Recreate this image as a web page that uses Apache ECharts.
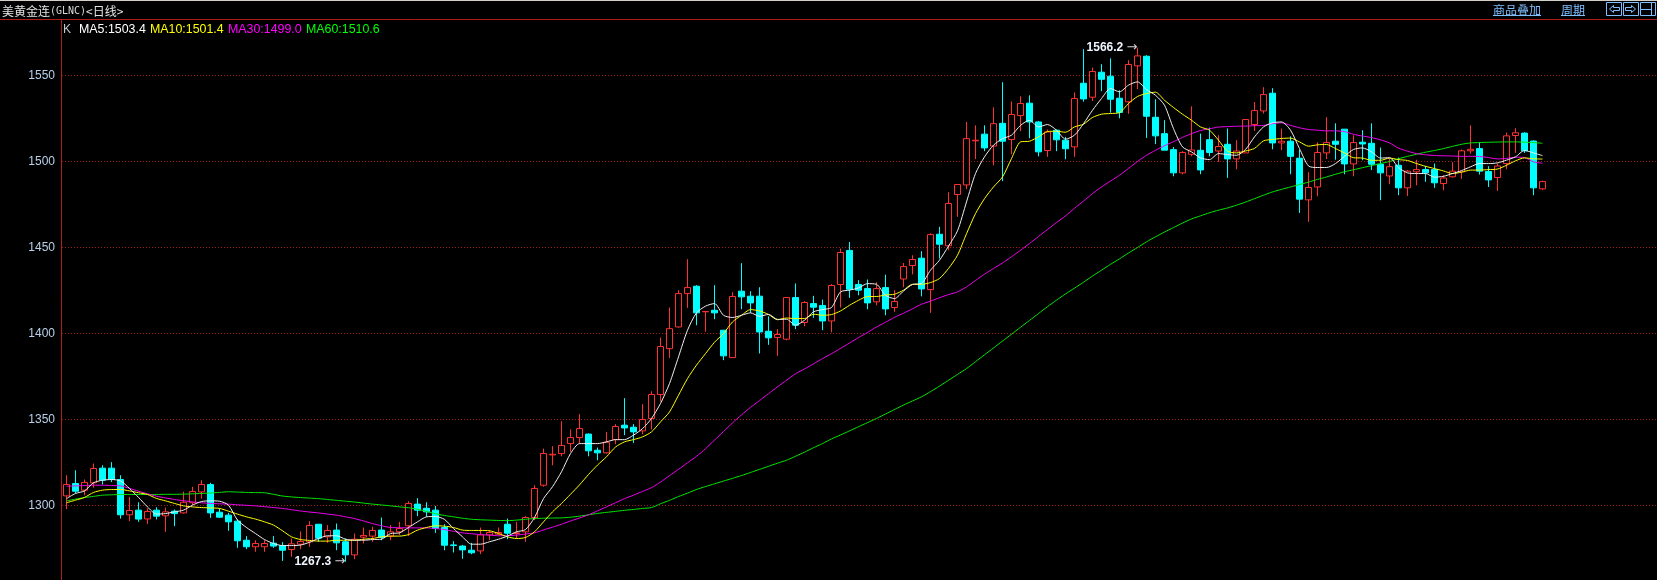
<!DOCTYPE html>
<html><head><meta charset="utf-8">
<style>html,body{margin:0;padding:0;background:#000;overflow:hidden}#c{width:1657px;height:580px}</style>
<script src="https://cdn.jsdelivr.net/npm/echarts@6/dist/echarts.min.js"></script>
</head><body><div id="c"></div>
<script>
const opens=[1305.6,1312.8,1308.9,1313.2,1321.7,1321.7,1315.1,1294.6,1297.3,1292.2,
1297.3,1294,1296.7,1295.7,1301.6,1307.9,1312.2,1296.1,1294.4,1290.9,
1279.8,1276,1276,1278.1,1276.7,1274.4,1277.5,1278.9,1289.1,1281.8,
1285.7,1278.9,1271.3,1281.6,1282.2,1285.7,1282.2,1284.7,1288.2,1300.8,
1298.4,1297.3,1287.2,1277.1,1276.4,1274,1273.6,1282.9,1283.3,1289.1,
1283.7,1284.7,1293,1311.8,1329.4,1330.2,1336,1339.5,1341.5,1332.1,
1330.6,1338.3,1346.7,1345.5,1343.4,1350.6,1364.5,1391.2,1403.8,1423.2,
1427.5,1412.6,1413.5,1401.9,1386,1424.6,1421.7,1421.7,1401.3,1397.7,
1396.7,1420.9,1406.4,1417.4,1416.3,1407.3,1428.5,1448.3,1428.5,1426.1,
1418.4,1426.7,1415.1,1431.7,1439.5,1443.8,1425.5,1457.7,1451,1480.8,
1486.4,1512,1515.9,1509,1522.2,1512.8,1526.7,1533.9,1523,1506.4,
1518.2,1512.4,1508.5,1545.5,1537.4,1551.9,1549.6,1536.8,1534.7,1555.6,
1561.2,1525.7,1516.2,1506.9,1493.4,1504.2,1506.5,1512.7,1506.1,1510,
1501.5,1505,1521.5,1529.4,1539.7,1510.8,1511.8,1501.9,1477.7,1485.2,
1505,1511.8,1518.8,1498.6,1511.2,1510.6,1498.4,1491.6,1497.8,1484.7,
1494,1495.3,1495.3,1487.2,1491.1,1494,1506.2,1507.5,1494.2,1490.7,
1498.8,1515.1,1516.5,1511.9,1484.1];
const closes=[1312.2,1308.3,1313.4,1321.5,1314.7,1315.1,1294.6,1297.1,1292.1,1296.5,
1293.8,1296.3,1295.3,1301.9,1308.1,1312.2,1295.7,1293.2,1290.5,1279.5,
1276,1277.9,1277.9,1276.4,1274,1277.7,1279.1,1288.4,1281,1285.5,
1278.3,1271.3,1280.4,1282.6,1285.5,1281.4,1284.7,1286.6,1301.2,1297.3,
1296.3,1286.6,1276.9,1276.7,1274.2,1272.5,1282.9,1284.3,1284.3,1283.9,
1284.1,1293,1309.9,1330.2,1329.8,1334.9,1339.5,1344.7,1331.8,1330.6,
1336.8,1345.9,1345.1,1342.8,1350,1364.5,1392.4,1402.8,1423.2,1426.7,
1412,1412.8,1412,1387,1421.5,1421.3,1417.8,1400.9,1397.5,1399.4,
1420.9,1404.8,1418,1415.3,1407.3,1427.9,1447.1,1425.7,1425.2,1417.8,
1426.1,1414.3,1418.6,1438.9,1443,1425.9,1457.5,1451.9,1475.6,1486.6,
1513.3,1512.4,1507.9,1522,1511.8,1527.3,1533.7,1523,1505.6,1517.2,
1512.6,1507.4,1536.6,1536.4,1552.3,1547.8,1536.2,1528.5,1556.4,1561.4,
1526.3,1514.9,1506.6,1493.4,1505.2,1506.7,1495.1,1505.2,1508.7,1501.5,
1506.1,1524.4,1529.6,1538.9,1510.8,1511.8,1503,1478.1,1484.9,1505.2,
1511,1510,1498.6,1511,1510.2,1498.4,1493.4,1497,1484.7,1494.4,
1495.3,1493.4,1487.6,1490.4,1494.4,1506.2,1507.1,1494.4,1489.3,1497.4,
1514.9,1516.7,1506.2,1484.7,1488.3];
const lows=[1297.9,1307,1306,1310.3,1312.2,1313.6,1292.4,1290.9,1290.5,1289.3,
1291.9,1284.7,1288,1295.3,1300.2,1304,1292.8,1292.8,1285.3,1275.4,
1274.6,1273.1,1273.1,1275.4,1267.8,1270.2,1274.6,1276,1278.9,1278.3,
1274,1267.3,1268.8,1277.9,1278.9,1279.8,1279.8,1282.8,1282.2,1293.8,
1293.4,1284.1,1274,1272.7,1269,1271.7,1271.7,1279.8,1282.8,1280.4,
1280.8,1278.9,1291.5,1310.9,1323.4,1328.6,1331.2,1336,1328.6,1326.3,
1330.2,1335.6,1340.9,1336.4,1341.5,1344.2,1360.4,1385.8,1403.4,1414.9,
1404.8,1401,1408.3,1384.5,1386,1414.1,1412,1388.4,1393.4,1387,
1396,1402.5,1404.2,1409.1,1401.9,1400.7,1415.1,1420.7,1422.2,1414.1,
1416.4,1410.6,1412.6,1426.9,1434.4,1421.6,1412,1443.6,1448.4,1467.8,
1483.9,1501.4,1506,1497.8,1488.6,1504.2,1517.6,1513.5,1503,1502.7,
1506,1501.3,1502.7,1534.8,1535.2,1540.9,1528.4,1525.1,1527.7,1542,
1513.7,1510.1,1506.6,1491.4,1492.6,1503,1492.6,1503,1499.8,1490.5,
1495.5,1505,1517.8,1527.9,1507.1,1506.6,1492.6,1470.1,1464.9,1479.8,
1501.4,1501,1492.6,1491.4,1500.7,1495,1477.5,1486.8,1480.4,1479.9,
1486.2,1488.2,1484.7,1483.3,1490.7,1489.9,1504.6,1492.4,1485.2,1482.9,
1495.5,1505,1505,1480.4,1483.3];
const highs=[1317.6,1320.5,1315.1,1324.4,1323.4,1325.2,1317.6,1305,1301.9,1298.4,
1299,1298.8,1297.7,1308.1,1310.9,1314.7,1313.2,1298.3,1295.7,1291.9,
1282.2,1279.8,1279.8,1282.2,1278.7,1280.8,1284.9,1290.9,1289.1,1288.6,
1289.5,1280.8,1283.7,1287.2,1287.6,1293,1288.6,1290.5,1302.5,1304.3,
1301.9,1299.7,1289.1,1279.3,1277.1,1278.3,1287.2,1285.7,1287.2,1292.4,
1290.5,1293.8,1311.8,1333.1,1334.5,1349,1344.2,1353.1,1341.9,1333.7,
1342.8,1347.3,1362.4,1347.3,1358.9,1366.4,1397.6,1415.1,1425.2,1443.2,
1428.1,1412.9,1428.1,1401.9,1424,1440.9,1424.6,1426.9,1410,1402.5,
1421,1429.1,1418.8,1421.9,1419.7,1428.7,1449.4,1453.2,1431,1431.4,
1429.8,1434.2,1425.2,1441,1445.5,1447.9,1458.3,1462,1482.1,1486.6,
1523,1521,1521,1531.5,1546.1,1534.9,1537.9,1538.5,1523.6,1518.6,
1518.6,1514.3,1540.1,1565.3,1554.6,1556.6,1560,1541.4,1558.9,1566.2,
1561.8,1536.2,1524,1508.4,1506,1532.1,1516.2,1519.7,1515.3,1519.2,
1512.4,1524.4,1534.6,1543.2,1542.6,1519.1,1514.6,1506.9,1493.8,1511.2,
1525.8,1522.2,1518.8,1515.2,1518.2,1522.2,1508.1,1501.7,1502.3,1495.1,
1501,1497.4,1498.8,1492,1499.6,1507,1521,1511.2,1497.3,1498.8,
1516.8,1519.4,1517,1512.3,1488.9];
const ma5=[1304,1307,1308.5,1313.2,1314.7,1315.1,1314.3,1309.9,1304.7,1299.2,
1295,1295.3,1296.3,1297.3,1300.2,1302.3,1302.7,1302.5,1300.2,1291.5,
1287.2,1283.7,1280.2,1277.9,1276.7,1276.7,1277,1278.6,1280.8,1282.4,
1282.4,1280.4,1279.8,1279.8,1280.2,1280.4,1283.7,1284.1,1287.2,1290.5,
1293.4,1293.6,1291.9,1286.6,1281.8,1277.5,1277.5,1278.9,1280.4,1282.2,
1284.7,1286,1293,1304,1310.9,1319.6,1330.2,1336,1336,1336,
1337,1338.3,1338.3,1340.9,1344.7,1350.6,1359.3,1370.9,1386.4,1401.9,
1412,1415.9,1417.4,1410.6,1409.3,1410.6,1412,1410,1411.1,1408.2,
1408.3,1404.8,1407.7,1412.6,1413.9,1415.1,1424.2,1425.2,1426.5,1429,
1428.6,1422.2,1420.3,1424.7,1428.5,1429.1,1436.8,1442.6,1450.8,1459.7,
1476.5,1493,1502.7,1509.5,1513.3,1515.3,1521,1524,1520.1,1521.5,
1518.2,1513,1515.3,1522,1529.8,1536.6,1542.4,1540.5,1544.4,1546.3,
1541.8,1538.5,1532.7,1519.1,1508.5,1505.6,1502.1,1501.1,1504.6,1504,
1503.6,1507,1514.3,1520.1,1522.5,1523,1518.2,1507.5,1497.4,1496.5,
1496.5,1498.8,1503,1507,1507.9,1505.6,1502,1502.2,1496.5,1493.4,
1493,1493,1490.9,1491.4,1493,1494.7,1496.9,1498.8,1498.8,1499.2,
1500.8,1502.7,1506.4,1505,1503.4];
const ma10=[1301.6,1303.1,1304.7,1307.6,1308.9,1309.3,1309.3,1308.5,1307.4,1306.4,
1304.1,1302.7,1301.2,1299.8,1299.2,1298.8,1298.6,1298.3,1296.7,1295,
1293.4,1292.1,1290.5,1288.6,1285.3,1281.8,1280.2,1279.7,1279.3,1279.3,
1279.8,1279.8,1279.8,1280.4,1280.8,1281.8,1282.2,1282.2,1283.1,1285.7,
1287.2,1288.2,1288,1287.2,1285.7,1285.5,1285.5,1285.3,1283.7,1281.8,
1280.8,1281.4,1284.7,1290.5,1296.3,1301.2,1306.5,1312,1318,1323.5,
1328.3,1334,1337,1338.3,1339.9,1342.8,1348.6,1354.4,1364.1,1373.8,
1381.6,1388.3,1394.9,1400,1406.7,1410.6,1413.9,1413.1,1411.1,1408,
1409,1408.7,1408.7,1411.2,1410.6,1411,1413.1,1416.4,1419.3,1421.5,
1421.5,1422.4,1422.8,1425.2,1428.6,1428.6,1429.6,1432,1437.8,1445.5,
1458,1469.7,1478.4,1485.2,1491,1501.7,1511.4,1511.8,1514.3,1517.4,
1517.6,1517,1520.1,1521.7,1525.6,1527.5,1527.9,1528.4,1533.7,1537.8,
1539.5,1540.3,1535.6,1531.4,1527.5,1524,1520.1,1518.2,1512.4,1506,
1505,1506.1,1507.6,1512,1512.8,1513.4,1513.6,1511.4,1508.9,1509.7,
1509.9,1507.5,1505,1502.2,1502,1500.7,1500.7,1502,1501.1,1500.6,
1498.8,1497.2,1495.9,1494.5,1493,1493.8,1495,1495,1495.3,1495.6,
1497.8,1500.4,1502.1,1501.6,1501.4];
const ma30=[1311.2,1311.4,1311.6,1311.8,1311.8,1311.6,1311.4,1310,1308.3,1306.8,
1305.4,1304.4,1303.5,1302.8,1302.1,1301.6,1301.2,1301,1300.8,1300.4,
1300.1,1299.8,1299.3,1298.8,1298.3,1297.6,1296.8,1296.2,1295.7,1295,
1294.4,1293.4,1292.4,1291,1289.5,1288.2,1287.2,1287.1,1287,1287,
1287,1286.6,1286,1285,1284.1,1283.6,1283.1,1282.8,1282.4,1282.5,
1282.8,1283.4,1284.1,1285.8,1287.4,1289.1,1291,1292.7,1294.6,1296.9,
1299.2,1301.6,1304,1306,1308.2,1310.4,1313.6,1317.4,1321,1324.8,
1328.6,1333,1338,1343,1348,1352.7,1357,1361,1365,1369,
1372.8,1376.6,1379.4,1382.4,1385.4,1388.3,1391.3,1394.5,1397.6,1400.6,
1403.8,1406.5,1409.4,1411.8,1414.4,1417,1418.8,1420.8,1422.6,1424.2,
1427.1,1430.8,1434.5,1437.8,1441,1444.6,1448.4,1452.3,1456.4,1460.5,
1464.5,1468.4,1472.8,1477,1481.3,1485.2,1488.6,1492,1496,1500,
1503.6,1506.5,1509.2,1511.5,1514,1516.2,1518,1519,1520,1520.3,
1520.5,1520.6,1520.8,1521,1522,1522.5,1521,1519.6,1518.6,1518.2,
1517.8,1517.8,1517.4,1515.8,1514.8,1513.9,1512.6,1510.8,1507.8,1506,
1504.6,1503.9,1503.5,1503.3,1503.2,1503,1503,1502.9,1502.3,1501.5,
1501.8,1502.5,1502.3,1499.8,1499];
const ma60=[1302.7,1303.7,1304.6,1305.3,1306,1306.2,1306.4,1306.4,1306.4,1306.4,
1306.4,1306.5,1306.5,1306.6,1306.8,1307,1307.3,1307.6,1308,1307.8,
1307.6,1307.5,1307.4,1306.5,1305.5,1305,1304.6,1304.3,1304,1303.5,
1303,1302.5,1302,1301.4,1300.8,1300.3,1299.8,1299.2,1298.7,1297.8,
1296.6,1295.2,1294.2,1293.4,1292.6,1292,1291.7,1291.5,1291.3,1291.2,
1291.5,1292,1292.4,1292.6,1292.7,1292.8,1293.2,1293.8,1294.6,1295.4,
1296,1296.6,1297.2,1297.7,1298.3,1298.8,1301,1303,1305.2,1307.2,
1309.3,1311,1312.6,1314.2,1315.8,1317.4,1319.2,1321,1322.8,1324.6,
1326.3,1328.6,1331,1333.6,1336,1338.7,1341,1343.4,1345.8,1348.2,
1350.6,1353.2,1355.8,1358.4,1360.8,1363.2,1366.2,1369.4,1372.8,1376.2,
1379.6,1383.6,1387.6,1391.6,1395.6,1399.6,1403.6,1407.6,1411.6,1415.6,
1419.4,1423,1426.4,1429.8,1433.4,1436.8,1440.2,1443.4,1446.8,1450,
1453.3,1456.2,1459,1461.6,1464.2,1466.6,1468.4,1470.2,1471.7,1473,
1474.6,1476.4,1478.4,1480.4,1482.3,1483.8,1485.2,1486.6,1488,1489.6,
1491,1492.6,1494,1495.2,1496.4,1497.6,1498.8,1500,1501.6,1503,
1504.2,1505.4,1506.4,1507.5,1508.8,1510,1510.8,1511,1511.2,1511.3,
1511.4,1511.4,1511.2,1511,1510.6];
const categories=opens.map((_,i)=>'D'+(i+1)).concat(new Array(13).fill(''));
const tickValues=['1300','1350','1400','1450','1500','1550'];
const legendTexts=['K','MA5:1503.4','MA10:1501.4','MA30:1499.0','MA60:1510.6'];
const maxLabel='1566.2', minLabel='1267.3';

const C_UP='#ff3232', C_DN='#00ffff', BTN='#7fbfff', FRAME='#b01c1c', CN='"Noto Sans CJK SC"', AR='"Liberation Sans",Arial';
const txt=(x,y,t,fill,font,extra)=>({type:'text',silent:true,z:50,style:Object.assign({x,y,text:t,fill,font,textVerticalAlign:'middle'},extra||{})});
const ln=(x1,y1,x2,y2,stroke)=>({type:'line',silent:true,z:50,shape:{x1,y1,x2,y2},style:{stroke,lineWidth:1}});
const poly=(pts,stroke)=>({type:'polyline',silent:true,z:50,shape:{points:pts},style:{stroke,fill:null,lineWidth:1}});
const rect=(x,y,w,h)=>({type:'rect',silent:true,z:50,shape:{x,y,width:w,height:h},style:{stroke:BTN,fill:null,lineWidth:1}});

const graphics=[
 {type:'rect',silent:true,z:49,shape:{x:0,y:0,width:1657,height:1},style:{fill:'#d4d0c8'}},
 {type:'rect',silent:true,z:49,shape:{x:0,y:1,width:1657,height:18},style:{fill:'#000'}},
 ln(0,19.5,1657,19.5,FRAME), ln(61.5,19.5,61.5,580,FRAME),
 txt(2,11,'美黄金连','#e4e4e4','12px '+CN),
 txt(50,11,'(GLNC)','#d8d8d8','10px "DejaVu Sans Mono"'),
 txt(86,11,'<日线>','#e4e4e4','12px '+CN),
 txt(63,30,legendTexts[0],'#c0c8d0','12px '+AR),
 txt(79,30,legendTexts[1],'#ffffff','12.4px '+AR),
 txt(150,30,legendTexts[2],'#ffff00','12.4px '+AR),
 txt(228,30,legendTexts[3],'#ff00ff','12.4px '+AR),
 txt(306,30,legendTexts[4],'#00ff00','12.4px '+AR),
 txt(1493,10,'商品叠加',BTN,'12px '+CN), ln(1493,15.5,1541,15.5,BTN),
 txt(1561,10,'周期',BTN,'12px '+CN), ln(1561,15.5,1585,15.5,BTN),
 rect(1606.5,2.5,15,13),rect(1623.5,2.5,15,13),rect(1640.5,2.5,15,13),
 poly([[1613.5,5.5],[1609.5,9],[1613.5,12.5],[1613.5,10.5],[1619.5,10.5],[1619.5,7.5],[1613.5,7.5],[1613.5,5.5]],BTN),
 poly([[1631.5,5.5],[1635.5,9],[1631.5,12.5],[1631.5,10.5],[1625.5,10.5],[1625.5,7.5],[1631.5,7.5],[1631.5,5.5]],BTN),
 ln(1640.5,9.5,1651,9.5,BTN), ln(1651.5,2.5,1651.5,15.5,BTN)
];

const maSeries=(name,data,color)=>({name,type:'line',data,symbol:'none',smooth:0.25,z:5,animation:false,
  lineStyle:{color,width:1},silent:true});
const labelRich={a:{color:'#f0f6ff',fontSize:12,fontWeight:'bold',fontFamily:'"Liberation Sans"'},b:{color:'#d0d0d0',fontSize:13,fontFamily:'"DejaVu Sans"'}};

const chart=echarts.init(document.getElementById('c'),null,{renderer:'canvas',width:1657,height:580});
chart.setOption({
 animation:false,backgroundColor:'#000',
 grid:{left:62,right:-7,top:-10.5,height:602,containLabel:false,outerBoundsMode:'none'},
 xAxis:{type:'category',data:categories,boundaryGap:true,show:false},
 yAxis:{type:'value',min:1250,max:1600,interval:50,position:'left',
  axisLine:{show:false},axisTick:{show:false},
  axisLabel:{show:true,margin:7,color:'#b8d0ea',fontFamily:'"Liberation Sans",Arial',fontSize:12,showMinLabel:false,showMaxLabel:false,
    formatter:v=>tickValues.includes(String(v))?String(v):''},
  splitLine:{show:true,showMinLine:false,showMaxLine:false,lineStyle:{color:'#a01818',width:1,type:[1,2]}}},
 graphic:graphics,
 series:[
  {name:'K',type:'candlestick',barWidth:7,z:3,silent:true,animation:false,
   data:opens.map((o,i)=>[o,closes[i],lows[i],highs[i]]),
   itemStyle:{color:'#000',color0:C_DN,borderColor:C_UP,borderColor0:C_DN,borderWidth:1},
   markPoint:{silent:true,animation:false,symbol:'circle',symbolSize:0,
    label:{show:true,position:'left',distance:0,fontFamily:'"Liberation Sans",Arial',fontSize:12},
    data:[
     {coord:[119,1566.2],label:{formatter:'{a|'+maxLabel+'} {b|→}',rich:labelRich}},
     {coord:[31,1267.3],label:{formatter:'{a|'+minLabel+'} {b|→}',rich:labelRich}}
    ]}},
  maSeries('MA60',ma60,'#00e800'),
  maSeries('MA30',ma30,'#f000f0'),
  maSeries('MA10',ma10,'#ffff00'),
  maSeries('MA5',ma5,'#f0f0f0')
 ]
});
</script></body></html>
